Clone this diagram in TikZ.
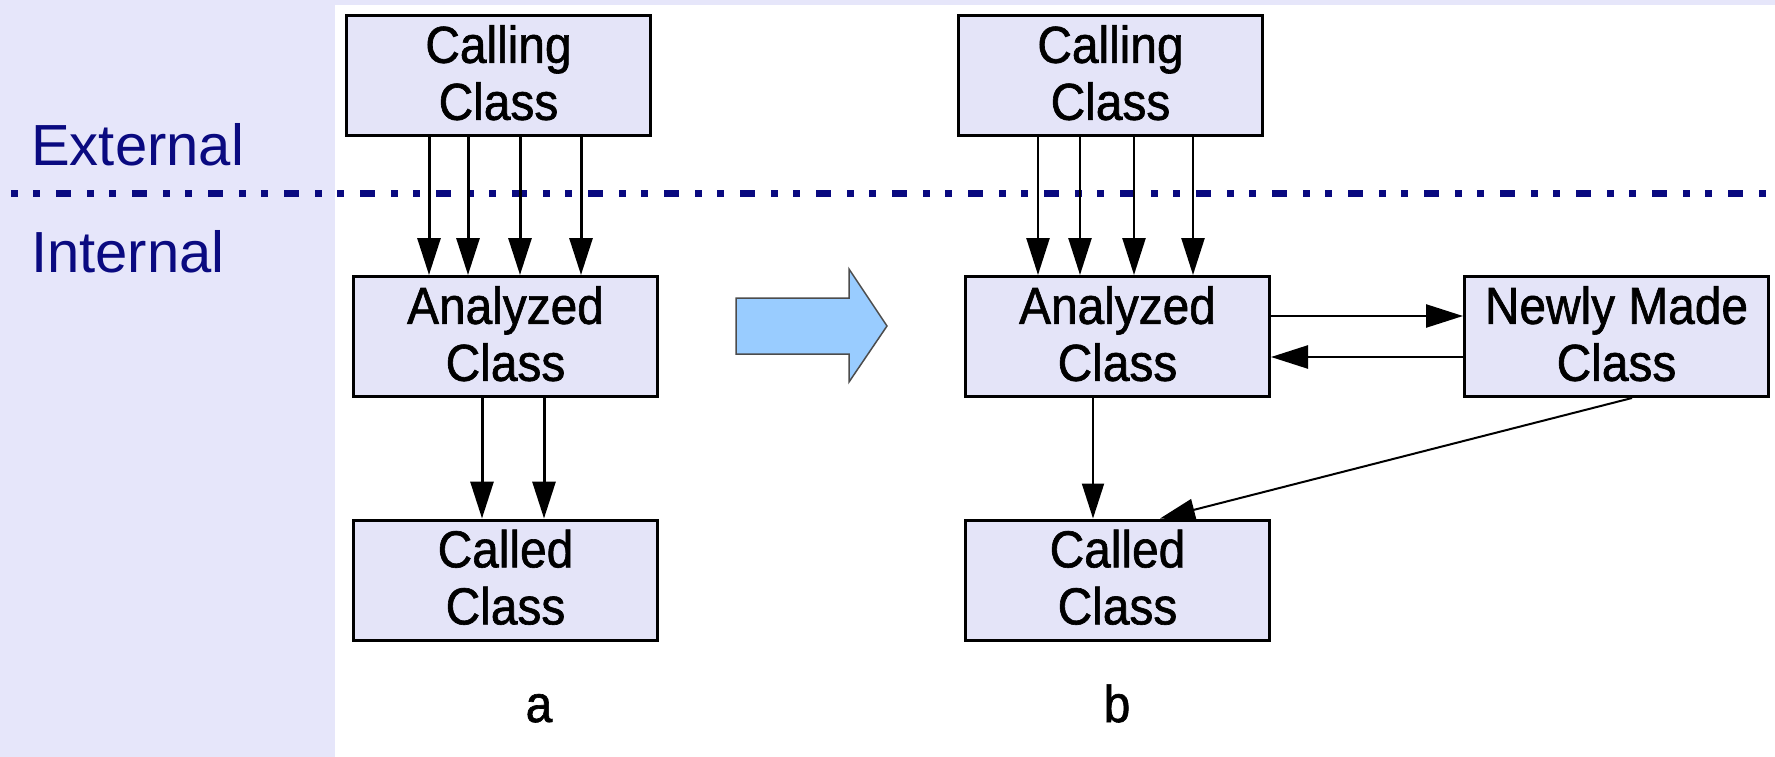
\documentclass[tikz,border=0pt]{standalone}
\usepackage{fontspec}
\setmainfont{Liberation Sans}
\newfontfamily\boxfont[FakeStretch=0.92,FakeBold=1.2]{Liberation Sans}
\usetikzlibrary{arrows.meta}

\definecolor{lav}{RGB}{230,230,250}
\definecolor{boxfill}{RGB}{228,228,248}
\definecolor{navy}{RGB}{10,10,128}
\definecolor{arrowblue}{RGB}{153,204,255}

\begin{document}
\begin{tikzpicture}[x=1pt,y=-1pt,
  cls/.style={draw=black, line width=3pt, fill=boxfill,
    minimum width=304pt, minimum height=120pt, inner sep=0pt,
    align=center, text depth=6pt,
    font=\boxfont\fontsize{52}{57}\selectfont},
  thick call/.style={-{Triangle[length=37pt,width=23pt]}, line width=3pt},
  thin call/.style={-{Triangle[length=37pt,width=23pt]}, line width=2.5pt},
  fine call/.style={-{Triangle[length=35pt,width=22pt]}, line width=2pt},
  zone/.style={text=navy, font=\fontsize{58}{64}\selectfont, anchor=base west, inner sep=0pt},
  caption/.style={font=\boxfont\fontsize{52}{57}\selectfont, anchor=base, inner sep=0pt}
]
\useasboundingbox (0,0) rectangle (1775,757);

% background: side band and top strip
\fill[white] (0,0) rectangle (1775,757);
\fill[lav] (0,0) rectangle (1775,5);
\fill[lav] (0,0) rectangle (335,757);

% zone labels and the boundary between them
\node[zone] (ext) at (31,165) {External};
\node[zone] (int) at (31,272) {Internal};
\draw[navy, line width=7pt,
  dash pattern=on 15pt off 16pt on 7pt off 15pt on 7pt off 16pt,
  dash phase=30pt] (10,193.5) -- (1775,193.5);

% column positions of the parallel calls
\coordinate (a1) at (429,0);
\coordinate (a2) at (468,0);
\coordinate (a3) at (520,0);
\coordinate (a4) at (581,0);
\coordinate (a5) at (482,0);
\coordinate (a6) at (544,0);
\coordinate (b1) at (1038,0);
\coordinate (b2) at (1080,0);
\coordinate (b3) at (1134,0);
\coordinate (b4) at (1193,0);
\coordinate (b5) at (1093,0);

% before: classes
\node[cls] (calla) at (498.5,75.5) {Calling\\Class};
\node[cls] (ana)   at (505.5,336.5) {Analyzed\\Class};
\node[cls] (cda)   at (505.5,580) {Called\\Class};

% after: classes
\node[cls] (callb) at (1110.5,75.5) {Calling\\Class};
\node[cls] (anb)   at (1117.5,336.5) {Analyzed\\Class};
\node[cls] (newb)  at (1616.5,336.5) {Newly Made\\Class};
\node[cls] (cdb)   at (1117.5,580) {Called\\Class};

% captions
\node[caption] (capa) at (539,722) {a};
\node[caption] (capb) at (1117,722) {b};

% transformation arrow
\draw[fill=arrowblue, draw=black!70, line width=1.5pt, line join=miter]
  (736,298) -- (849,298) -- (849,269) -- (887,326) -- (849,382)
  -- (849,354) -- (736,354) -- cycle;

% before: calls
\foreach \c in {a1,a2,a3,a4}
  \draw[thick call] (calla.south -| \c) -- (ana.north -| \c);
\foreach \c in {a5,a6}
  \draw[thick call] (ana.south -| \c) -- (cda.north -| \c);

% after: calls
\foreach \c in {b1,b2,b3,b4}
  \draw[thin call] (callb.south -| \c) -- (anb.north -| \c);
\draw[thin call] ([yshift=20.5pt]anb.east) -- ([yshift=20.5pt]newb.west);
\draw[thin call] ([yshift=-20.5pt]newb.west) -- ([yshift=-20.5pt]anb.east);
\draw[fine call] (anb.south -| b5) -- (cdb.north -| b5);
\draw[fine call] ([xshift=15.5pt]newb.south) -- ([xshift=42.5pt]cdb.north);

\end{tikzpicture}
\end{document}
